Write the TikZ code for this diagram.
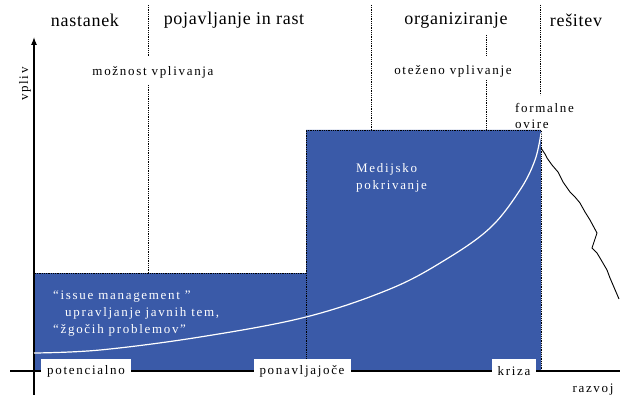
\documentclass[tikz,border=0pt]{standalone}
\usepackage{fontspec}
\setmainfont{Liberation Serif}
\newfontfamily\headf[LetterSpace=4]{Liberation Serif}
\newfontfamily\smallf[LetterSpace=13]{Liberation Serif}
\usetikzlibrary{arrows.meta}
\definecolor{issueblue}{RGB}{58,90,168}
\begin{document}
\begin{tikzpicture}[x=1pt,y=-1pt,
  dots/.style={densely dotted,line width=0.8pt},
  head/.style={font=\headf\fontsize{18}{20}\selectfont,inner sep=0pt},
  small/.style={font=\smallf\fontsize{13}{16}\selectfont,inner sep=0pt},
  whitetxt/.style={small,text=white,align=left,font=\smallf\fontsize{13}{17}\selectfont},
  lbl/.style={small,fill=white,inner xsep=6pt,minimum height=24pt}]
\useasboundingbox (0,0) rectangle (620,395);
% blue region
\fill[issueblue] (34,371) -- (34,273) -- (306,273) -- (306,130) -- (541,130) -- (541,371) -- cycle;
\draw[dots] (34,371) -- (34,273) -- (306,273) -- (306,130) -- (541,130) -- (541,371);
\draw[dots] (306,273) -- (306,371);
% phase dividers
\draw[dots] (148,5) -- (148,57);
\draw[dots] (148,85) -- (148,273);
\draw[dots] (371,5) -- (371,130);
\draw[dots] (486,35) -- (486,55);
\draw[dots] (486,80) -- (486,130);
\draw[dots] (540,5) -- (540,95);
% axes
\coordinate (xs) at (10,371);
\coordinate (xe) at (620,371);
\coordinate (ys) at (34,395);
\coordinate (ye) at (34,37);
\draw[line width=1.1pt] (xs) -- (xe);
\draw[line width=1.1pt,-{Latex[length=8pt,width=6pt]}] (ys) -- (ye);
% white curve
\draw[white,line width=1.2pt] plot[smooth,tension=0.6] coordinates
 {(34,353) (100,350) (200,337) (306,317) (390,289) (445,260) (490,228) (520,190) (535,160) (541,133)};
% black decline
\draw[line width=0.9pt] plot coordinates
 {(541,148) (545,154) (547,158) (552,165) (558,172) (561,178) (563,182) (570,192) (575,197) (580,203) (585,212) (590,220) (597,233) (592,248) (597,253) (600,258) (607,270) (610,278) (613,285) (619,299)};
% headings
\node[head] (h1) at (85,20) {nastanek};
\node[head] (h2) at (234,20) {pojavljanje in rast};
\node[head] (h3) at (456,20) {organiziranje};
\node[head] (h4) at (576,20) {rešitev};
% small labels
\node[small] (m1) at (153,72) {možnost vplivanja};
\node[small] (m2) at (453,71) {oteženo vplivanje};
\node[small,align=left,anchor=north west] (fo) at (515,103) {formalne\\ovire};
\node[small,rotate=90] (vp) at (25,84) {vpliv};
\node[small] (rz) at (593,390) {razvoj};
\node[whitetxt,anchor=north west] (med) at (356,163) {Medijsko\\pokrivanje};
\node[whitetxt,anchor=north west] (iss) at (53,291) {“issue management ”\\\hspace*{12pt}upravljanje javnih tem,\\“žgočih problemov”};
% bottom labels
\node[lbl] (p1) at (86,371) {potencialno};
\node[lbl] (p2) at (302,371) {ponavljajoče};
\node[lbl] (p3) at (514,371) {kriza};
\end{tikzpicture}
\end{document}
